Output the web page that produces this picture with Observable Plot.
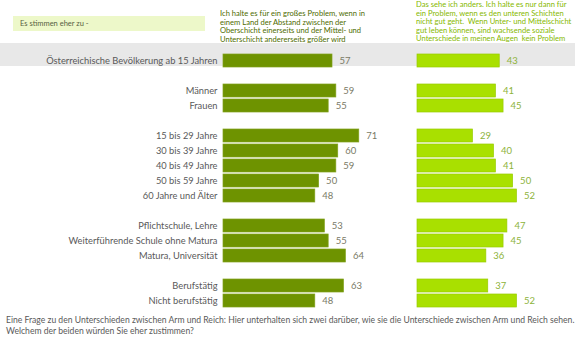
<!DOCTYPE html>
<html>
<head>
<meta charset="utf-8">
<script src="https://cdn.jsdelivr.net/npm/d3@7"></script>
<script src="https://cdn.jsdelivr.net/npm/@observablehq/plot@0.6"></script>
<style>
  html, body { margin: 0; padding: 0; background: #fff; }
  #wrap { position: relative; width: 575px; height: 342px; overflow: hidden; font-family: Lato, "Open Sans", sans-serif; }
  #band { position: absolute; left: 0; top: 43px; width: 575px; height: 23px; background: #E8E8E8; }
  #chart { position: absolute; left: 0; top: 0; }
  #lead { position: absolute; left: 13px; top: 16px; width: 192px; height: 15px; background: #EDF8C9; font-size: 7.5px; line-height: 15px; color: #56603f; padding-left: 7px; box-sizing: border-box; }
  .head { position: absolute; font-size: 7.6px; line-height: 8.5px; white-space: nowrap; }
  #headA { left: 220px; top: 9px; color: #4E6B00; }
  #headB { left: 416px; top: 0px; color: #86B800; }
  #caption { position: absolute; left: 6px; top: 315px; font-size: 8.6px; line-height: 11px; color: #595959; white-space: nowrap; }
</style>
</head>
<body>
<div id="wrap">
  <div id="band"></div>
  <div id="chart"></div>
  <div id="lead">Es stimmen eher zu -</div>
  <div id="headA" class="head">Ich halte es für ein großes Problem, wenn in<br>einem Land der Abstand zwischen der<br>Oberschicht einerseits und der Mittel- und<br>Unterschicht andererseits größer wird</div>
  <div id="headB" class="head">Das sehe ich anders. Ich halte es nur dann für<br>ein Problem, wenn es den unteren Schichten<br>nicht gut geht.&nbsp; Wenn Unter- und Mittelschicht<br>gut leben können, sind wachsende soziale<br>Unterschiede in meinen Augen&nbsp; kein Problem</div>
  <div id="caption">Eine Frage zu den Unterschieden zwischen Arm und Reich: Hier unterhalten sich zwei darüber, wie sie die Unterschiede zwischen Arm und Reich sehen.<br>Welchem der beiden würden Sie eher zustimmen?</div>
</div>
<script>
// Categories (rows), in display order
const categories = [
  "Österreichische Bevölkerung ab 15 Jahren",
  "Männer", "Frauen",
  "15 bis 29 Jahre", "30 bis 39 Jahre", "40 bis 49 Jahre", "50 bis 59 Jahre", "60 Jahre und Älter",
  "Pflichtschule, Lehre", "Weiterführende Schule ohne Matura", "Matura, Universität",
  "Berufstätig", "Nicht berufstätig"
];
// Number of rows in each group (groups separated by a blank row)
const groupSizes = [1, 2, 5, 3, 2];
// "Großes Problem" (left) values
const agreeProblem = [57, 59, 55, 71, 60, 59, 50, 48, 53, 55, 64, 63, 48];
// "Kein Problem" (right) values
const noProblem = [43, 41, 45, 29, 40, 41, 50, 52, 47, 45, 36, 37, 52];

const sides = ["problem", "kein"];

// y domain with blank spacer slots between groups
const yDomain = [];
let k = 0;
groupSizes.forEach((n, gi) => {
  if (gi > 0) yDomain.push("__gap" + gi);
  for (let j = 0; j < n; j++) yDomain.push(categories[k++]);
});

const rows = categories.flatMap((c, i) => [
  {cat: c, side: sides[0], v: agreeProblem[i]},
  {cat: c, side: sides[1], v: noProblem[i]}
]);

const fillC = {problem: "#6E9300", kein: "#A9E000"};
const strokeC = {problem: "#80A11C", kein: "#98CC00"};
const textC = {problem: "#7A7A66", kein: "#8DB33A"};

const chart = Plot.plot({
  width: 575,
  height: 316,
  marginLeft: 222.7,
  marginRight: 0,
  marginTop: 46,
  marginBottom: 1.8,
  style: {background: "transparent", fontFamily: "Lato, 'Open Sans', sans-serif"},
  x: {domain: [0, 82.1], axis: null},
  y: {domain: yDomain, padding: 0.15, axis: null},
  fx: {domain: sides, paddingInner: 0.19, paddingOuter: 0, align: 0, axis: null},
  marks: [
    Plot.barX(rows, {
      fx: "side", y: "cat", x: "v",
      fill: d => fillC[d.side], stroke: d => strokeC[d.side], strokeWidth: 0.7
    }),
    Plot.text(rows, {
      fx: "side", y: "cat", x: "v", text: "v",
      dx: 7, textAnchor: "start", fontSize: 9.5,
      fill: d => textC[d.side]
    }),
    Plot.axisY({
      label: null, tickSize: 0, tickPadding: 6, fontSize: 9.3, color: "#595959",
      tickFormat: d => d.startsWith("__gap") ? "" : d
    })
  ]
});
document.getElementById("chart").appendChild(chart);
</script>
</body>
</html>
